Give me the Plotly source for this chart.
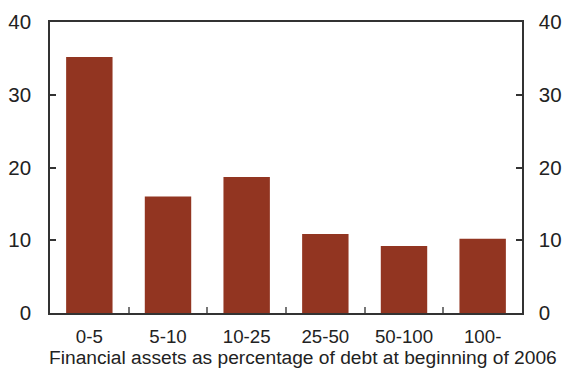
import plotly.graph_objects as go

categories = ["0-5", "5-10", "10-25", "25-50", "50-100", "100-"]
values = [35.2, 16.0, 18.7, 10.85, 9.2, 10.2]
y_ticks = [0, 10, 20, 30, 40]
x_title = "Financial assets as percentage of debt at beginning of 2006"

bar_color = "#923521"
axis_color = "#333333"
font_family = "Liberation Sans, Arial, sans-serif"

fig = go.Figure()
fig.add_trace(go.Bar(x=categories, y=values, marker_color=bar_color,
                     marker_line_width=0, width=0.59, showlegend=False))
fig.add_trace(go.Scatter(x=categories, y=values, yaxis="y2", mode="markers",
                         marker_opacity=0, showlegend=False, hoverinfo="skip"))

fig.update_layout(
    width=565, height=369,
    margin=dict(l=50, r=43, t=22, b=56, autoexpand=False),
    paper_bgcolor="white", plot_bgcolor="white",
    font=dict(family=font_family, color="#222222"),
    xaxis=dict(
        type="category", tickson="boundaries", ticks="inside", ticklen=6,
        tickcolor="#777777", tickwidth=1.5, automargin=False,
        showline=True, linecolor=axis_color, linewidth=1.5, mirror=True,
        showgrid=False, tickfont=dict(size=18.7),
        ticklabelstandoff=6,
    ),
    yaxis=dict(
        range=[0, 40], tickvals=y_ticks, ticks="inside", ticklen=6,
        tickcolor=axis_color, tickwidth=1.5, automargin=False,
        showline=True, linecolor=axis_color, linewidth=1.5,
        showgrid=False, zeroline=False, tickfont=dict(size=20.5),
        ticklabelstandoff=13,
    ),
    yaxis2=dict(
        range=[0, 40], tickvals=y_ticks, overlaying="y", side="right",
        ticks="inside", ticklen=6, tickcolor=axis_color, tickwidth=1.5,
        automargin=False,
        showline=True, linecolor=axis_color, linewidth=1.5,
        showgrid=False, zeroline=False, tickfont=dict(size=20.5),
        ticklabelstandoff=11,
    ),
    annotations=[dict(
        text=x_title, xref="paper", yref="paper", x=0, y=-0.1546,
        xanchor="left", yanchor="middle", showarrow=False,
        font=dict(size=19.2), xshift=-3,
    )],
)

fig.write_html("out.html", config={"displayModeBar": False},
               post_script="document.body.style.margin='0';document.body.style.overflow='hidden';")
